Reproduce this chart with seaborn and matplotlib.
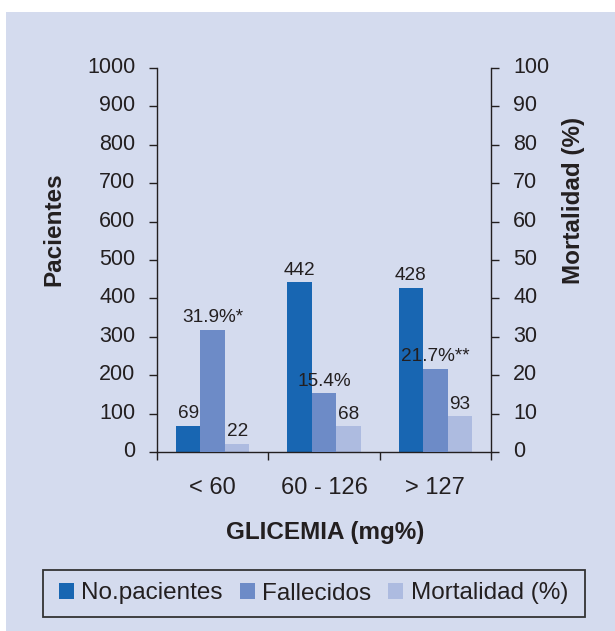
import matplotlib
matplotlib.use("Agg")
import matplotlib.pyplot as plt
import seaborn as sns
import pandas as pd
from matplotlib.patches import Rectangle, Patch
from matplotlib.transforms import ScaledTranslation

# ---- data ----
categories = ["< 60", "60 - 126", "> 127"]
series = ["No.pacientes", "Fallecidos", "Mortalidad (%)"]
pacientes = [69, 442, 428]            # left axis
fallecidos_pct = [31.9, 15.4, 21.7]   # right axis (%)
mortalidad = [22, 68, 93]             # left axis
pct_labels = ["31.9%*", "15.4%", "21.7%**"]
left_ticks = [0, 100, 200, 300, 400, 500, 600, 700, 800, 900, 1000]
right_ticks = [0, 10, 20, 30, 40, 50, 60, 70, 80, 90, 100]

# ---- style ----
BG = "#d4dbee"
TXT = "#231f20"
colors = ["#1866b2", "#6d8bc7", "#adbbe0"]
palette = dict(zip(series, colors))

sns.set_theme(style="white")
plt.rcParams["font.family"] = ["Liberation Sans", "DejaVu Sans"]
plt.rcParams["text.color"] = TXT
plt.rcParams["axes.labelcolor"] = TXT
plt.rcParams["xtick.color"] = TXT
plt.rcParams["ytick.color"] = TXT

left_df = pd.DataFrame({
    "cat": categories * 2,
    "serie": [series[0]] * 3 + [series[2]] * 3,
    "val": pacientes + mortalidad,
})
right_df = pd.DataFrame({
    "cat": categories,
    "serie": [series[1]] * 3,
    "val": fallecidos_pct,
})

W, H = 615, 631
fig = plt.figure(figsize=(W / 100, H / 100), dpi=100)
fig.patch.set_facecolor("white")
fig.add_artist(Rectangle((6 / W, 0), 1, 1 - 12 / H, transform=fig.transFigure,
                         facecolor=BG, edgecolor="none", zorder=-10))

ax = fig.add_axes([157 / W, 1 - 452 / H, (491 - 157) / W, (452 - 68) / H])
ax.patch.set_visible(False)
ax2 = ax.twinx()
ax2.patch.set_visible(False)

sns.barplot(data=left_df, x="cat", y="val", hue="serie", hue_order=series,
            order=categories, palette=palette, width=0.66, saturation=1,
            dodge=True, errorbar=None, legend=False, ax=ax)
sns.barplot(data=right_df, x="cat", y="val", hue="serie", hue_order=series,
            order=categories, palette=palette, width=0.66, saturation=1,
            dodge=True, errorbar=None, legend=False, ax=ax2)

for a in (ax, ax2):
    for p in a.patches:
        p.set_edgecolor("none")
        p.set_linewidth(0)

ax.set_ylim(0, 1000)
ax2.set_ylim(0, 100)
ax.set_xlim(-0.5, 2.5)
ax.set_xlabel("")
ax.set_ylabel("")
ax2.set_ylabel("")
ax2.set_xlabel("")

# spines
for s in ["top", "right"]:
    ax.spines[s].set_visible(False)
for s in ["top", "left", "bottom"]:
    ax2.spines[s].set_visible(False)
for a, s in [(ax, "left"), (ax, "bottom"), (ax2, "right")]:
    a.spines[s].set_color(TXT)
    a.spines[s].set_linewidth(1.0)

# ticks
ax.set_yticks(left_ticks)
ax.set_yticklabels([str(t) for t in left_ticks])
ax2.set_yticks(right_ticks)
ax2.set_yticklabels([str(t) for t in right_ticks])
ax.tick_params(axis="y", which="major", direction="out", length=6, width=1.0,
               pad=9.5, labelsize=15.5, left=True, right=False, colors=TXT)
ax2.tick_params(axis="y", which="major", direction="out", length=6, width=1.0,
                pad=10, labelsize=15.5, right=True, left=False, colors=TXT)

ax.set_xticks([-0.5, 0.5, 1.5, 2.5])
ax.set_xticklabels([""] * 4)
ax.set_xticks([0, 1, 2], minor=True)
ax.set_xticklabels(categories, minor=True)
ax.tick_params(axis="x", which="major", direction="out", length=6, width=1.0,
               bottom=True, colors=TXT)
ax.tick_params(axis="x", which="minor", length=0, pad=18, labelsize=17,
               bottom=True, colors=TXT)

off = ScaledTranslation(0, 3 / 100, fig.dpi_scale_trans)
for lab in ax.get_yticklabels() + ax2.get_yticklabels():
    lab.set_transform(lab.get_transform() + off)

# annotations
ann = dict(ha="center", va="baseline", fontsize=13.7, color=TXT,
           textcoords="offset points", xytext=(0, 5.2))
for p in ax.patches:
    h = p.get_height()
    if h == h and h > 0:
        ax.annotate(f"{int(round(h))}", (p.get_x() + p.get_width() / 2, h), **ann)
right_bars = [p for p in ax2.patches if p.get_height() == p.get_height() and p.get_height() > 0]
right_bars.sort(key=lambda p: p.get_x())
for p, lab in zip(right_bars, pct_labels):
    ax2.annotate(lab, (p.get_x() + p.get_width() / 2, p.get_height()), **ann)

# axis titles
fig.text(60.5 / W, 1 - 229 / H, "Pacientes", rotation=90, ha="center",
         va="baseline", rotation_mode="anchor", fontsize=17.5, fontweight="bold", color=TXT)
fig.text(580 / W, 1 - 200 / H, "Mortalidad (%)", rotation=90, ha="center",
         va="baseline", rotation_mode="anchor", fontsize=17.5, fontweight="bold", color=TXT)
fig.text(325 / W, 1 - 539 / H, "GLICEMIA (mg%)", ha="center", va="baseline",
         fontsize=17.5, fontweight="bold", color=TXT)

# legend (frame drawn separately to match the box)
fig.add_artist(Rectangle((43 / W, 1 - 617 / H), (585 - 43) / W, 47 / H,
                         transform=fig.transFigure, facecolor="none",
                         edgecolor="#333333", linewidth=1.3, zorder=5))
handles = [Patch(facecolor=palette[s], edgecolor="none", label=s) for s in series]
leg = fig.legend(handles=handles, loc="center", bbox_to_anchor=(313.5 / W, 1 - 593.5 / H),
                 ncol=3, frameon=False, fontsize=17.5, handlelength=0.62,
                 handleheight=0.62, handletextpad=0.3, columnspacing=0.7,
                 borderpad=0, borderaxespad=0)
for t in leg.get_texts():
    t.set_color(TXT)

fig.savefig("out.png", dpi=100, facecolor="white")
